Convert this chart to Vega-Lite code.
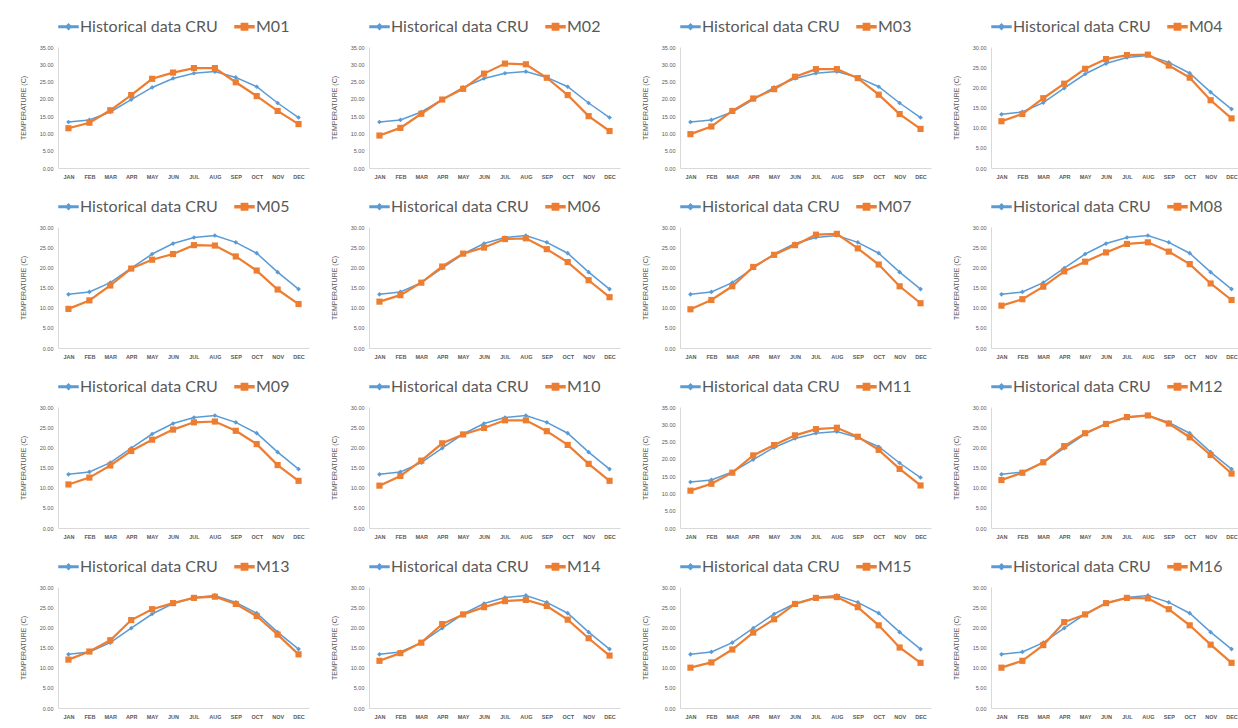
{
"$schema": "https://vega.github.io/schema/vega-lite/v6.json",
"background": "white",
"padding": {"left": 19, "top": 16, "right": 0, "bottom": 0},
"columns": 4,
"spacing": {"row": 16, "column": 21},
"resolve": {"scale": {"color": "independent"}, "legend": {"color": "independent"}},
"data": {"values": [
{"model":"CRU","month":"JAN","temp":13.3},{"model":"CRU","month":"FEB","temp":13.9},{"model":"CRU","month":"MAR","temp":16.2},{"model":"CRU","month":"APR","temp":19.8},{"model":"CRU","month":"MAY","temp":23.3},{"model":"CRU","month":"JUN","temp":25.9},{"model":"CRU","month":"JUL","temp":27.4},{"model":"CRU","month":"AUG","temp":27.9},{"model":"CRU","month":"SEP","temp":26.2},{"model":"CRU","month":"OCT","temp":23.5},{"model":"CRU","month":"NOV","temp":18.8},{"model":"CRU","month":"DEC","temp":14.6},
{"model":"M01","month":"JAN","temp":11.5},{"model":"M01","month":"FEB","temp":13.1},{"model":"M01","month":"MAR","temp":16.7},{"model":"M01","month":"APR","temp":21.1},{"model":"M01","month":"MAY","temp":25.8},{"model":"M01","month":"JUN","temp":27.6},{"model":"M01","month":"JUL","temp":28.9},{"model":"M01","month":"AUG","temp":28.9},{"model":"M01","month":"SEP","temp":24.8},{"model":"M01","month":"OCT","temp":20.8},{"model":"M01","month":"NOV","temp":16.5},{"model":"M01","month":"DEC","temp":12.7},
{"model":"M02","month":"JAN","temp":9.4},{"model":"M02","month":"FEB","temp":11.6},{"model":"M02","month":"MAR","temp":15.7},{"model":"M02","month":"APR","temp":19.8},{"model":"M02","month":"MAY","temp":22.9},{"model":"M02","month":"JUN","temp":27.3},{"model":"M02","month":"JUL","temp":30.2},{"model":"M02","month":"AUG","temp":30.0},{"model":"M02","month":"SEP","temp":26.1},{"model":"M02","month":"OCT","temp":21.1},{"model":"M02","month":"NOV","temp":15.0},{"model":"M02","month":"DEC","temp":10.7},
{"model":"M03","month":"JAN","temp":9.8},{"model":"M03","month":"FEB","temp":12.0},{"model":"M03","month":"MAR","temp":16.5},{"model":"M03","month":"APR","temp":20.1},{"model":"M03","month":"MAY","temp":22.8},{"model":"M03","month":"JUN","temp":26.4},{"model":"M03","month":"JUL","temp":28.6},{"model":"M03","month":"AUG","temp":28.6},{"model":"M03","month":"SEP","temp":26.0},{"model":"M03","month":"OCT","temp":21.2},{"model":"M03","month":"NOV","temp":15.6},{"model":"M03","month":"DEC","temp":11.3},
{"model":"M04","month":"JAN","temp":11.6},{"model":"M04","month":"FEB","temp":13.4},{"model":"M04","month":"MAR","temp":17.3},{"model":"M04","month":"APR","temp":20.9},{"model":"M04","month":"MAY","temp":24.6},{"model":"M04","month":"JUN","temp":27.0},{"model":"M04","month":"JUL","temp":28.0},{"model":"M04","month":"AUG","temp":28.1},{"model":"M04","month":"SEP","temp":25.4},{"model":"M04","month":"OCT","temp":22.4},{"model":"M04","month":"NOV","temp":16.8},{"model":"M04","month":"DEC","temp":12.3},
{"model":"M05","month":"JAN","temp":9.7},{"model":"M05","month":"FEB","temp":11.8},{"model":"M05","month":"MAR","temp":15.5},{"model":"M05","month":"APR","temp":19.7},{"model":"M05","month":"MAY","temp":21.9},{"model":"M05","month":"JUN","temp":23.3},{"model":"M05","month":"JUL","temp":25.5},{"model":"M05","month":"AUG","temp":25.4},{"model":"M05","month":"SEP","temp":22.7},{"model":"M05","month":"OCT","temp":19.2},{"model":"M05","month":"NOV","temp":14.5},{"model":"M05","month":"DEC","temp":10.9},
{"model":"M06","month":"JAN","temp":11.5},{"model":"M06","month":"FEB","temp":13.1},{"model":"M06","month":"MAR","temp":16.2},{"model":"M06","month":"APR","temp":20.2},{"model":"M06","month":"MAY","temp":23.4},{"model":"M06","month":"JUN","temp":24.9},{"model":"M06","month":"JUL","temp":27.0},{"model":"M06","month":"AUG","temp":27.2},{"model":"M06","month":"SEP","temp":24.5},{"model":"M06","month":"OCT","temp":21.3},{"model":"M06","month":"NOV","temp":16.8},{"model":"M06","month":"DEC","temp":12.6},
{"model":"M07","month":"JAN","temp":9.6},{"model":"M07","month":"FEB","temp":11.9},{"model":"M07","month":"MAR","temp":15.3},{"model":"M07","month":"APR","temp":20.1},{"model":"M07","month":"MAY","temp":23.1},{"model":"M07","month":"JUN","temp":25.5},{"model":"M07","month":"JUL","temp":28.1},{"model":"M07","month":"AUG","temp":28.3},{"model":"M07","month":"SEP","temp":24.7},{"model":"M07","month":"OCT","temp":20.7},{"model":"M07","month":"NOV","temp":15.3},{"model":"M07","month":"DEC","temp":11.1},
{"model":"M08","month":"JAN","temp":10.5},{"model":"M08","month":"FEB","temp":12.1},{"model":"M08","month":"MAR","temp":15.2},{"model":"M08","month":"APR","temp":19.0},{"model":"M08","month":"MAY","temp":21.4},{"model":"M08","month":"JUN","temp":23.7},{"model":"M08","month":"JUL","temp":25.8},{"model":"M08","month":"AUG","temp":26.2},{"model":"M08","month":"SEP","temp":23.9},{"model":"M08","month":"OCT","temp":20.8},{"model":"M08","month":"NOV","temp":16.0},{"model":"M08","month":"DEC","temp":11.9},
{"model":"M09","month":"JAN","temp":10.8},{"model":"M09","month":"FEB","temp":12.5},{"model":"M09","month":"MAR","temp":15.5},{"model":"M09","month":"APR","temp":19.1},{"model":"M09","month":"MAY","temp":21.9},{"model":"M09","month":"JUN","temp":24.4},{"model":"M09","month":"JUL","temp":26.2},{"model":"M09","month":"AUG","temp":26.4},{"model":"M09","month":"SEP","temp":24.1},{"model":"M09","month":"OCT","temp":20.8},{"model":"M09","month":"NOV","temp":15.6},{"model":"M09","month":"DEC","temp":11.7},
{"model":"M10","month":"JAN","temp":10.5},{"model":"M10","month":"FEB","temp":12.9},{"model":"M10","month":"MAR","temp":16.7},{"model":"M10","month":"APR","temp":21.0},{"model":"M10","month":"MAY","temp":23.2},{"model":"M10","month":"JUN","temp":24.8},{"model":"M10","month":"JUL","temp":26.7},{"model":"M10","month":"AUG","temp":26.7},{"model":"M10","month":"SEP","temp":24.0},{"model":"M10","month":"OCT","temp":20.6},{"model":"M10","month":"NOV","temp":15.9},{"model":"M10","month":"DEC","temp":11.7},
{"model":"M11","month":"JAN","temp":10.8},{"model":"M11","month":"FEB","temp":12.8},{"model":"M11","month":"MAR","temp":16.0},{"model":"M11","month":"APR","temp":21.0},{"model":"M11","month":"MAY","temp":24.0},{"model":"M11","month":"JUN","temp":26.8},{"model":"M11","month":"JUL","temp":28.6},{"model":"M11","month":"AUG","temp":29.0},{"model":"M11","month":"SEP","temp":26.4},{"model":"M11","month":"OCT","temp":22.6},{"model":"M11","month":"NOV","temp":17.1},{"model":"M11","month":"DEC","temp":12.3},
{"model":"M12","month":"JAN","temp":11.9},{"model":"M12","month":"FEB","temp":13.7},{"model":"M12","month":"MAR","temp":16.3},{"model":"M12","month":"APR","temp":20.3},{"model":"M12","month":"MAY","temp":23.5},{"model":"M12","month":"JUN","temp":25.8},{"model":"M12","month":"JUL","temp":27.5},{"model":"M12","month":"AUG","temp":27.9},{"model":"M12","month":"SEP","temp":25.9},{"model":"M12","month":"OCT","temp":22.5},{"model":"M12","month":"NOV","temp":18.1},{"model":"M12","month":"DEC","temp":13.5},
{"model":"M13","month":"JAN","temp":12.0},{"model":"M13","month":"FEB","temp":14.0},{"model":"M13","month":"MAR","temp":16.8},{"model":"M13","month":"APR","temp":21.8},{"model":"M13","month":"MAY","temp":24.5},{"model":"M13","month":"JUN","temp":26.0},{"model":"M13","month":"JUL","temp":27.3},{"model":"M13","month":"AUG","temp":27.6},{"model":"M13","month":"SEP","temp":25.8},{"model":"M13","month":"OCT","temp":22.8},{"model":"M13","month":"NOV","temp":18.2},{"model":"M13","month":"DEC","temp":13.3},
{"model":"M14","month":"JAN","temp":11.7},{"model":"M14","month":"FEB","temp":13.6},{"model":"M14","month":"MAR","temp":16.2},{"model":"M14","month":"APR","temp":20.8},{"model":"M14","month":"MAY","temp":23.2},{"model":"M14","month":"JUN","temp":25.0},{"model":"M14","month":"JUL","temp":26.5},{"model":"M14","month":"AUG","temp":26.8},{"model":"M14","month":"SEP","temp":25.3},{"model":"M14","month":"OCT","temp":21.9},{"model":"M14","month":"NOV","temp":17.3},{"model":"M14","month":"DEC","temp":13.0},
{"model":"M15","month":"JAN","temp":10.0},{"model":"M15","month":"FEB","temp":11.3},{"model":"M15","month":"MAR","temp":14.5},{"model":"M15","month":"APR","temp":18.7},{"model":"M15","month":"MAY","temp":22.0},{"model":"M15","month":"JUN","temp":25.8},{"model":"M15","month":"JUL","temp":27.3},{"model":"M15","month":"AUG","temp":27.5},{"model":"M15","month":"SEP","temp":25.0},{"model":"M15","month":"OCT","temp":20.5},{"model":"M15","month":"NOV","temp":15.0},{"model":"M15","month":"DEC","temp":11.2},
{"model":"M16","month":"JAN","temp":10.0},{"model":"M16","month":"FEB","temp":11.7},{"model":"M16","month":"MAR","temp":15.6},{"model":"M16","month":"APR","temp":21.3},{"model":"M16","month":"MAY","temp":23.2},{"model":"M16","month":"JUN","temp":26.0},{"model":"M16","month":"JUL","temp":27.3},{"model":"M16","month":"AUG","temp":27.2},{"model":"M16","month":"SEP","temp":24.5},{"model":"M16","month":"OCT","temp":20.5},{"model":"M16","month":"NOV","temp":15.7},{"model":"M16","month":"DEC","temp":11.2}
]},
"concat": [
{"width":251,"height":121,"transform":[{"filter":{"field":"model","oneOf":["CRU","M01"]}}],"encoding":{"x":{"field":"month","type":"ordinal","sort":["JAN","FEB","MAR","APR","MAY","JUN","JUL","AUG","SEP","OCT","NOV","DEC"],"title":null},"y":{"field":"temp","type":"quantitative","scale":{"domain":[0,35]},"axis":{"values":[0,5,10,15,20,25,30,35]},"title":"TEMPERATURE (C)"},"color":{"field":"model","type":"nominal","scale":{"domain":["CRU","M01"],"range":["#5B9BD5","#ED7D31"]},"legend":{"title":null,"labelExpr":"datum.value == 'CRU' ? 'Historical data CRU' : datum.value","encode":{"symbols":{"update":{"shape":{"signal":"datum.value == 'CRU' ? 'M-1,-0.07H1V0.07H-1Z M0,-0.28L0.28,0L0,0.28L-0.28,0Z' : 'M-1,-0.1H1V0.1H-1Z M-0.33,-0.33H0.33V0.33H-0.33Z'"},"fill":{"signal":"datum.value == 'CRU' ? '#5B9BD5' : '#ED7D31'"},"stroke":{"value":"transparent"},"opacity":{"value":1}}}}}}},"layer":[{"transform":[{"filter":"datum.model == 'CRU'"}],"mark":{"type":"line","strokeWidth":1.5}},{"transform":[{"filter":"datum.model == 'CRU'"}],"mark":{"type":"point","shape":"diamond","filled":true,"size":22,"opacity":1}},{"transform":[{"filter":"datum.model != 'CRU'"}],"mark":{"type":"line","strokeWidth":2.2}},{"transform":[{"filter":"datum.model != 'CRU'"}],"mark":{"type":"point","shape":"square","filled":true,"size":38,"opacity":1}}]},
{"width":251,"height":121,"transform":[{"filter":{"field":"model","oneOf":["CRU","M02"]}}],"encoding":{"x":{"field":"month","type":"ordinal","sort":["JAN","FEB","MAR","APR","MAY","JUN","JUL","AUG","SEP","OCT","NOV","DEC"],"title":null},"y":{"field":"temp","type":"quantitative","scale":{"domain":[0,35]},"axis":{"values":[0,5,10,15,20,25,30,35]},"title":"TEMPERATURE (C)"},"color":{"field":"model","type":"nominal","scale":{"domain":["CRU","M02"],"range":["#5B9BD5","#ED7D31"]},"legend":{"title":null,"labelExpr":"datum.value == 'CRU' ? 'Historical data CRU' : datum.value","encode":{"symbols":{"update":{"shape":{"signal":"datum.value == 'CRU' ? 'M-1,-0.07H1V0.07H-1Z M0,-0.28L0.28,0L0,0.28L-0.28,0Z' : 'M-1,-0.1H1V0.1H-1Z M-0.33,-0.33H0.33V0.33H-0.33Z'"},"fill":{"signal":"datum.value == 'CRU' ? '#5B9BD5' : '#ED7D31'"},"stroke":{"value":"transparent"},"opacity":{"value":1}}}}}}},"layer":[{"transform":[{"filter":"datum.model == 'CRU'"}],"mark":{"type":"line","strokeWidth":1.5}},{"transform":[{"filter":"datum.model == 'CRU'"}],"mark":{"type":"point","shape":"diamond","filled":true,"size":22,"opacity":1}},{"transform":[{"filter":"datum.model != 'CRU'"}],"mark":{"type":"line","strokeWidth":2.2}},{"transform":[{"filter":"datum.model != 'CRU'"}],"mark":{"type":"point","shape":"square","filled":true,"size":38,"opacity":1}}]},
{"width":251,"height":121,"transform":[{"filter":{"field":"model","oneOf":["CRU","M03"]}}],"encoding":{"x":{"field":"month","type":"ordinal","sort":["JAN","FEB","MAR","APR","MAY","JUN","JUL","AUG","SEP","OCT","NOV","DEC"],"title":null},"y":{"field":"temp","type":"quantitative","scale":{"domain":[0,35]},"axis":{"values":[0,5,10,15,20,25,30,35]},"title":"TEMPERATURE (C)"},"color":{"field":"model","type":"nominal","scale":{"domain":["CRU","M03"],"range":["#5B9BD5","#ED7D31"]},"legend":{"title":null,"labelExpr":"datum.value == 'CRU' ? 'Historical data CRU' : datum.value","encode":{"symbols":{"update":{"shape":{"signal":"datum.value == 'CRU' ? 'M-1,-0.07H1V0.07H-1Z M0,-0.28L0.28,0L0,0.28L-0.28,0Z' : 'M-1,-0.1H1V0.1H-1Z M-0.33,-0.33H0.33V0.33H-0.33Z'"},"fill":{"signal":"datum.value == 'CRU' ? '#5B9BD5' : '#ED7D31'"},"stroke":{"value":"transparent"},"opacity":{"value":1}}}}}}},"layer":[{"transform":[{"filter":"datum.model == 'CRU'"}],"mark":{"type":"line","strokeWidth":1.5}},{"transform":[{"filter":"datum.model == 'CRU'"}],"mark":{"type":"point","shape":"diamond","filled":true,"size":22,"opacity":1}},{"transform":[{"filter":"datum.model != 'CRU'"}],"mark":{"type":"line","strokeWidth":2.2}},{"transform":[{"filter":"datum.model != 'CRU'"}],"mark":{"type":"point","shape":"square","filled":true,"size":38,"opacity":1}}]},
{"width":251,"height":121,"transform":[{"filter":{"field":"model","oneOf":["CRU","M04"]}}],"encoding":{"x":{"field":"month","type":"ordinal","sort":["JAN","FEB","MAR","APR","MAY","JUN","JUL","AUG","SEP","OCT","NOV","DEC"],"title":null},"y":{"field":"temp","type":"quantitative","scale":{"domain":[0,30]},"axis":{"values":[0,5,10,15,20,25,30]},"title":"TEMPERATURE (C)"},"color":{"field":"model","type":"nominal","scale":{"domain":["CRU","M04"],"range":["#5B9BD5","#ED7D31"]},"legend":{"title":null,"labelExpr":"datum.value == 'CRU' ? 'Historical data CRU' : datum.value","encode":{"symbols":{"update":{"shape":{"signal":"datum.value == 'CRU' ? 'M-1,-0.07H1V0.07H-1Z M0,-0.28L0.28,0L0,0.28L-0.28,0Z' : 'M-1,-0.1H1V0.1H-1Z M-0.33,-0.33H0.33V0.33H-0.33Z'"},"fill":{"signal":"datum.value == 'CRU' ? '#5B9BD5' : '#ED7D31'"},"stroke":{"value":"transparent"},"opacity":{"value":1}}}}}}},"layer":[{"transform":[{"filter":"datum.model == 'CRU'"}],"mark":{"type":"line","strokeWidth":1.5}},{"transform":[{"filter":"datum.model == 'CRU'"}],"mark":{"type":"point","shape":"diamond","filled":true,"size":22,"opacity":1}},{"transform":[{"filter":"datum.model != 'CRU'"}],"mark":{"type":"line","strokeWidth":2.2}},{"transform":[{"filter":"datum.model != 'CRU'"}],"mark":{"type":"point","shape":"square","filled":true,"size":38,"opacity":1}}]},
{"width":251,"height":121,"transform":[{"filter":{"field":"model","oneOf":["CRU","M05"]}}],"encoding":{"x":{"field":"month","type":"ordinal","sort":["JAN","FEB","MAR","APR","MAY","JUN","JUL","AUG","SEP","OCT","NOV","DEC"],"title":null},"y":{"field":"temp","type":"quantitative","scale":{"domain":[0,30]},"axis":{"values":[0,5,10,15,20,25,30]},"title":"TEMPERATURE (C)"},"color":{"field":"model","type":"nominal","scale":{"domain":["CRU","M05"],"range":["#5B9BD5","#ED7D31"]},"legend":{"title":null,"labelExpr":"datum.value == 'CRU' ? 'Historical data CRU' : datum.value","encode":{"symbols":{"update":{"shape":{"signal":"datum.value == 'CRU' ? 'M-1,-0.07H1V0.07H-1Z M0,-0.28L0.28,0L0,0.28L-0.28,0Z' : 'M-1,-0.1H1V0.1H-1Z M-0.33,-0.33H0.33V0.33H-0.33Z'"},"fill":{"signal":"datum.value == 'CRU' ? '#5B9BD5' : '#ED7D31'"},"stroke":{"value":"transparent"},"opacity":{"value":1}}}}}}},"layer":[{"transform":[{"filter":"datum.model == 'CRU'"}],"mark":{"type":"line","strokeWidth":1.5}},{"transform":[{"filter":"datum.model == 'CRU'"}],"mark":{"type":"point","shape":"diamond","filled":true,"size":22,"opacity":1}},{"transform":[{"filter":"datum.model != 'CRU'"}],"mark":{"type":"line","strokeWidth":2.2}},{"transform":[{"filter":"datum.model != 'CRU'"}],"mark":{"type":"point","shape":"square","filled":true,"size":38,"opacity":1}}]},
{"width":251,"height":121,"transform":[{"filter":{"field":"model","oneOf":["CRU","M06"]}}],"encoding":{"x":{"field":"month","type":"ordinal","sort":["JAN","FEB","MAR","APR","MAY","JUN","JUL","AUG","SEP","OCT","NOV","DEC"],"title":null},"y":{"field":"temp","type":"quantitative","scale":{"domain":[0,30]},"axis":{"values":[0,5,10,15,20,25,30]},"title":"TEMPERATURE (C)"},"color":{"field":"model","type":"nominal","scale":{"domain":["CRU","M06"],"range":["#5B9BD5","#ED7D31"]},"legend":{"title":null,"labelExpr":"datum.value == 'CRU' ? 'Historical data CRU' : datum.value","encode":{"symbols":{"update":{"shape":{"signal":"datum.value == 'CRU' ? 'M-1,-0.07H1V0.07H-1Z M0,-0.28L0.28,0L0,0.28L-0.28,0Z' : 'M-1,-0.1H1V0.1H-1Z M-0.33,-0.33H0.33V0.33H-0.33Z'"},"fill":{"signal":"datum.value == 'CRU' ? '#5B9BD5' : '#ED7D31'"},"stroke":{"value":"transparent"},"opacity":{"value":1}}}}}}},"layer":[{"transform":[{"filter":"datum.model == 'CRU'"}],"mark":{"type":"line","strokeWidth":1.5}},{"transform":[{"filter":"datum.model == 'CRU'"}],"mark":{"type":"point","shape":"diamond","filled":true,"size":22,"opacity":1}},{"transform":[{"filter":"datum.model != 'CRU'"}],"mark":{"type":"line","strokeWidth":2.2}},{"transform":[{"filter":"datum.model != 'CRU'"}],"mark":{"type":"point","shape":"square","filled":true,"size":38,"opacity":1}}]},
{"width":251,"height":121,"transform":[{"filter":{"field":"model","oneOf":["CRU","M07"]}}],"encoding":{"x":{"field":"month","type":"ordinal","sort":["JAN","FEB","MAR","APR","MAY","JUN","JUL","AUG","SEP","OCT","NOV","DEC"],"title":null},"y":{"field":"temp","type":"quantitative","scale":{"domain":[0,30]},"axis":{"values":[0,5,10,15,20,25,30]},"title":"TEMPERATURE (C)"},"color":{"field":"model","type":"nominal","scale":{"domain":["CRU","M07"],"range":["#5B9BD5","#ED7D31"]},"legend":{"title":null,"labelExpr":"datum.value == 'CRU' ? 'Historical data CRU' : datum.value","encode":{"symbols":{"update":{"shape":{"signal":"datum.value == 'CRU' ? 'M-1,-0.07H1V0.07H-1Z M0,-0.28L0.28,0L0,0.28L-0.28,0Z' : 'M-1,-0.1H1V0.1H-1Z M-0.33,-0.33H0.33V0.33H-0.33Z'"},"fill":{"signal":"datum.value == 'CRU' ? '#5B9BD5' : '#ED7D31'"},"stroke":{"value":"transparent"},"opacity":{"value":1}}}}}}},"layer":[{"transform":[{"filter":"datum.model == 'CRU'"}],"mark":{"type":"line","strokeWidth":1.5}},{"transform":[{"filter":"datum.model == 'CRU'"}],"mark":{"type":"point","shape":"diamond","filled":true,"size":22,"opacity":1}},{"transform":[{"filter":"datum.model != 'CRU'"}],"mark":{"type":"line","strokeWidth":2.2}},{"transform":[{"filter":"datum.model != 'CRU'"}],"mark":{"type":"point","shape":"square","filled":true,"size":38,"opacity":1}}]},
{"width":251,"height":121,"transform":[{"filter":{"field":"model","oneOf":["CRU","M08"]}}],"encoding":{"x":{"field":"month","type":"ordinal","sort":["JAN","FEB","MAR","APR","MAY","JUN","JUL","AUG","SEP","OCT","NOV","DEC"],"title":null},"y":{"field":"temp","type":"quantitative","scale":{"domain":[0,30]},"axis":{"values":[0,5,10,15,20,25,30]},"title":"TEMPERATURE (C)"},"color":{"field":"model","type":"nominal","scale":{"domain":["CRU","M08"],"range":["#5B9BD5","#ED7D31"]},"legend":{"title":null,"labelExpr":"datum.value == 'CRU' ? 'Historical data CRU' : datum.value","encode":{"symbols":{"update":{"shape":{"signal":"datum.value == 'CRU' ? 'M-1,-0.07H1V0.07H-1Z M0,-0.28L0.28,0L0,0.28L-0.28,0Z' : 'M-1,-0.1H1V0.1H-1Z M-0.33,-0.33H0.33V0.33H-0.33Z'"},"fill":{"signal":"datum.value == 'CRU' ? '#5B9BD5' : '#ED7D31'"},"stroke":{"value":"transparent"},"opacity":{"value":1}}}}}}},"layer":[{"transform":[{"filter":"datum.model == 'CRU'"}],"mark":{"type":"line","strokeWidth":1.5}},{"transform":[{"filter":"datum.model == 'CRU'"}],"mark":{"type":"point","shape":"diamond","filled":true,"size":22,"opacity":1}},{"transform":[{"filter":"datum.model != 'CRU'"}],"mark":{"type":"line","strokeWidth":2.2}},{"transform":[{"filter":"datum.model != 'CRU'"}],"mark":{"type":"point","shape":"square","filled":true,"size":38,"opacity":1}}]},
{"width":251,"height":121,"transform":[{"filter":{"field":"model","oneOf":["CRU","M09"]}}],"encoding":{"x":{"field":"month","type":"ordinal","sort":["JAN","FEB","MAR","APR","MAY","JUN","JUL","AUG","SEP","OCT","NOV","DEC"],"title":null},"y":{"field":"temp","type":"quantitative","scale":{"domain":[0,30]},"axis":{"values":[0,5,10,15,20,25,30]},"title":"TEMPERATURE (C)"},"color":{"field":"model","type":"nominal","scale":{"domain":["CRU","M09"],"range":["#5B9BD5","#ED7D31"]},"legend":{"title":null,"labelExpr":"datum.value == 'CRU' ? 'Historical data CRU' : datum.value","encode":{"symbols":{"update":{"shape":{"signal":"datum.value == 'CRU' ? 'M-1,-0.07H1V0.07H-1Z M0,-0.28L0.28,0L0,0.28L-0.28,0Z' : 'M-1,-0.1H1V0.1H-1Z M-0.33,-0.33H0.33V0.33H-0.33Z'"},"fill":{"signal":"datum.value == 'CRU' ? '#5B9BD5' : '#ED7D31'"},"stroke":{"value":"transparent"},"opacity":{"value":1}}}}}}},"layer":[{"transform":[{"filter":"datum.model == 'CRU'"}],"mark":{"type":"line","strokeWidth":1.5}},{"transform":[{"filter":"datum.model == 'CRU'"}],"mark":{"type":"point","shape":"diamond","filled":true,"size":22,"opacity":1}},{"transform":[{"filter":"datum.model != 'CRU'"}],"mark":{"type":"line","strokeWidth":2.2}},{"transform":[{"filter":"datum.model != 'CRU'"}],"mark":{"type":"point","shape":"square","filled":true,"size":38,"opacity":1}}]},
{"width":251,"height":121,"transform":[{"filter":{"field":"model","oneOf":["CRU","M10"]}}],"encoding":{"x":{"field":"month","type":"ordinal","sort":["JAN","FEB","MAR","APR","MAY","JUN","JUL","AUG","SEP","OCT","NOV","DEC"],"title":null},"y":{"field":"temp","type":"quantitative","scale":{"domain":[0,30]},"axis":{"values":[0,5,10,15,20,25,30]},"title":"TEMPERATURE (C)"},"color":{"field":"model","type":"nominal","scale":{"domain":["CRU","M10"],"range":["#5B9BD5","#ED7D31"]},"legend":{"title":null,"labelExpr":"datum.value == 'CRU' ? 'Historical data CRU' : datum.value","encode":{"symbols":{"update":{"shape":{"signal":"datum.value == 'CRU' ? 'M-1,-0.07H1V0.07H-1Z M0,-0.28L0.28,0L0,0.28L-0.28,0Z' : 'M-1,-0.1H1V0.1H-1Z M-0.33,-0.33H0.33V0.33H-0.33Z'"},"fill":{"signal":"datum.value == 'CRU' ? '#5B9BD5' : '#ED7D31'"},"stroke":{"value":"transparent"},"opacity":{"value":1}}}}}}},"layer":[{"transform":[{"filter":"datum.model == 'CRU'"}],"mark":{"type":"line","strokeWidth":1.5}},{"transform":[{"filter":"datum.model == 'CRU'"}],"mark":{"type":"point","shape":"diamond","filled":true,"size":22,"opacity":1}},{"transform":[{"filter":"datum.model != 'CRU'"}],"mark":{"type":"line","strokeWidth":2.2}},{"transform":[{"filter":"datum.model != 'CRU'"}],"mark":{"type":"point","shape":"square","filled":true,"size":38,"opacity":1}}]},
{"width":251,"height":121,"transform":[{"filter":{"field":"model","oneOf":["CRU","M11"]}}],"encoding":{"x":{"field":"month","type":"ordinal","sort":["JAN","FEB","MAR","APR","MAY","JUN","JUL","AUG","SEP","OCT","NOV","DEC"],"title":null},"y":{"field":"temp","type":"quantitative","scale":{"domain":[0,35]},"axis":{"values":[0,5,10,15,20,25,30,35]},"title":"TEMPERATURE (C)"},"color":{"field":"model","type":"nominal","scale":{"domain":["CRU","M11"],"range":["#5B9BD5","#ED7D31"]},"legend":{"title":null,"labelExpr":"datum.value == 'CRU' ? 'Historical data CRU' : datum.value","encode":{"symbols":{"update":{"shape":{"signal":"datum.value == 'CRU' ? 'M-1,-0.07H1V0.07H-1Z M0,-0.28L0.28,0L0,0.28L-0.28,0Z' : 'M-1,-0.1H1V0.1H-1Z M-0.33,-0.33H0.33V0.33H-0.33Z'"},"fill":{"signal":"datum.value == 'CRU' ? '#5B9BD5' : '#ED7D31'"},"stroke":{"value":"transparent"},"opacity":{"value":1}}}}}}},"layer":[{"transform":[{"filter":"datum.model == 'CRU'"}],"mark":{"type":"line","strokeWidth":1.5}},{"transform":[{"filter":"datum.model == 'CRU'"}],"mark":{"type":"point","shape":"diamond","filled":true,"size":22,"opacity":1}},{"transform":[{"filter":"datum.model != 'CRU'"}],"mark":{"type":"line","strokeWidth":2.2}},{"transform":[{"filter":"datum.model != 'CRU'"}],"mark":{"type":"point","shape":"square","filled":true,"size":38,"opacity":1}}]},
{"width":251,"height":121,"transform":[{"filter":{"field":"model","oneOf":["CRU","M12"]}}],"encoding":{"x":{"field":"month","type":"ordinal","sort":["JAN","FEB","MAR","APR","MAY","JUN","JUL","AUG","SEP","OCT","NOV","DEC"],"title":null},"y":{"field":"temp","type":"quantitative","scale":{"domain":[0,30]},"axis":{"values":[0,5,10,15,20,25,30]},"title":"TEMPERATURE (C)"},"color":{"field":"model","type":"nominal","scale":{"domain":["CRU","M12"],"range":["#5B9BD5","#ED7D31"]},"legend":{"title":null,"labelExpr":"datum.value == 'CRU' ? 'Historical data CRU' : datum.value","encode":{"symbols":{"update":{"shape":{"signal":"datum.value == 'CRU' ? 'M-1,-0.07H1V0.07H-1Z M0,-0.28L0.28,0L0,0.28L-0.28,0Z' : 'M-1,-0.1H1V0.1H-1Z M-0.33,-0.33H0.33V0.33H-0.33Z'"},"fill":{"signal":"datum.value == 'CRU' ? '#5B9BD5' : '#ED7D31'"},"stroke":{"value":"transparent"},"opacity":{"value":1}}}}}}},"layer":[{"transform":[{"filter":"datum.model == 'CRU'"}],"mark":{"type":"line","strokeWidth":1.5}},{"transform":[{"filter":"datum.model == 'CRU'"}],"mark":{"type":"point","shape":"diamond","filled":true,"size":22,"opacity":1}},{"transform":[{"filter":"datum.model != 'CRU'"}],"mark":{"type":"line","strokeWidth":2.2}},{"transform":[{"filter":"datum.model != 'CRU'"}],"mark":{"type":"point","shape":"square","filled":true,"size":38,"opacity":1}}]},
{"width":251,"height":121,"transform":[{"filter":{"field":"model","oneOf":["CRU","M13"]}}],"encoding":{"x":{"field":"month","type":"ordinal","sort":["JAN","FEB","MAR","APR","MAY","JUN","JUL","AUG","SEP","OCT","NOV","DEC"],"title":null},"y":{"field":"temp","type":"quantitative","scale":{"domain":[0,30]},"axis":{"values":[0,5,10,15,20,25,30]},"title":"TEMPERATURE (C)"},"color":{"field":"model","type":"nominal","scale":{"domain":["CRU","M13"],"range":["#5B9BD5","#ED7D31"]},"legend":{"title":null,"labelExpr":"datum.value == 'CRU' ? 'Historical data CRU' : datum.value","encode":{"symbols":{"update":{"shape":{"signal":"datum.value == 'CRU' ? 'M-1,-0.07H1V0.07H-1Z M0,-0.28L0.28,0L0,0.28L-0.28,0Z' : 'M-1,-0.1H1V0.1H-1Z M-0.33,-0.33H0.33V0.33H-0.33Z'"},"fill":{"signal":"datum.value == 'CRU' ? '#5B9BD5' : '#ED7D31'"},"stroke":{"value":"transparent"},"opacity":{"value":1}}}}}}},"layer":[{"transform":[{"filter":"datum.model == 'CRU'"}],"mark":{"type":"line","strokeWidth":1.5}},{"transform":[{"filter":"datum.model == 'CRU'"}],"mark":{"type":"point","shape":"diamond","filled":true,"size":22,"opacity":1}},{"transform":[{"filter":"datum.model != 'CRU'"}],"mark":{"type":"line","strokeWidth":2.2}},{"transform":[{"filter":"datum.model != 'CRU'"}],"mark":{"type":"point","shape":"square","filled":true,"size":38,"opacity":1}}]},
{"width":251,"height":121,"transform":[{"filter":{"field":"model","oneOf":["CRU","M14"]}}],"encoding":{"x":{"field":"month","type":"ordinal","sort":["JAN","FEB","MAR","APR","MAY","JUN","JUL","AUG","SEP","OCT","NOV","DEC"],"title":null},"y":{"field":"temp","type":"quantitative","scale":{"domain":[0,30]},"axis":{"values":[0,5,10,15,20,25,30]},"title":"TEMPERATURE (C)"},"color":{"field":"model","type":"nominal","scale":{"domain":["CRU","M14"],"range":["#5B9BD5","#ED7D31"]},"legend":{"title":null,"labelExpr":"datum.value == 'CRU' ? 'Historical data CRU' : datum.value","encode":{"symbols":{"update":{"shape":{"signal":"datum.value == 'CRU' ? 'M-1,-0.07H1V0.07H-1Z M0,-0.28L0.28,0L0,0.28L-0.28,0Z' : 'M-1,-0.1H1V0.1H-1Z M-0.33,-0.33H0.33V0.33H-0.33Z'"},"fill":{"signal":"datum.value == 'CRU' ? '#5B9BD5' : '#ED7D31'"},"stroke":{"value":"transparent"},"opacity":{"value":1}}}}}}},"layer":[{"transform":[{"filter":"datum.model == 'CRU'"}],"mark":{"type":"line","strokeWidth":1.5}},{"transform":[{"filter":"datum.model == 'CRU'"}],"mark":{"type":"point","shape":"diamond","filled":true,"size":22,"opacity":1}},{"transform":[{"filter":"datum.model != 'CRU'"}],"mark":{"type":"line","strokeWidth":2.2}},{"transform":[{"filter":"datum.model != 'CRU'"}],"mark":{"type":"point","shape":"square","filled":true,"size":38,"opacity":1}}]},
{"width":251,"height":121,"transform":[{"filter":{"field":"model","oneOf":["CRU","M15"]}}],"encoding":{"x":{"field":"month","type":"ordinal","sort":["JAN","FEB","MAR","APR","MAY","JUN","JUL","AUG","SEP","OCT","NOV","DEC"],"title":null},"y":{"field":"temp","type":"quantitative","scale":{"domain":[0,30]},"axis":{"values":[0,5,10,15,20,25,30]},"title":"TEMPERATURE (C)"},"color":{"field":"model","type":"nominal","scale":{"domain":["CRU","M15"],"range":["#5B9BD5","#ED7D31"]},"legend":{"title":null,"labelExpr":"datum.value == 'CRU' ? 'Historical data CRU' : datum.value","encode":{"symbols":{"update":{"shape":{"signal":"datum.value == 'CRU' ? 'M-1,-0.07H1V0.07H-1Z M0,-0.28L0.28,0L0,0.28L-0.28,0Z' : 'M-1,-0.1H1V0.1H-1Z M-0.33,-0.33H0.33V0.33H-0.33Z'"},"fill":{"signal":"datum.value == 'CRU' ? '#5B9BD5' : '#ED7D31'"},"stroke":{"value":"transparent"},"opacity":{"value":1}}}}}}},"layer":[{"transform":[{"filter":"datum.model == 'CRU'"}],"mark":{"type":"line","strokeWidth":1.5}},{"transform":[{"filter":"datum.model == 'CRU'"}],"mark":{"type":"point","shape":"diamond","filled":true,"size":22,"opacity":1}},{"transform":[{"filter":"datum.model != 'CRU'"}],"mark":{"type":"line","strokeWidth":2.2}},{"transform":[{"filter":"datum.model != 'CRU'"}],"mark":{"type":"point","shape":"square","filled":true,"size":38,"opacity":1}}]},
{"width":251,"height":121,"transform":[{"filter":{"field":"model","oneOf":["CRU","M16"]}}],"encoding":{"x":{"field":"month","type":"ordinal","sort":["JAN","FEB","MAR","APR","MAY","JUN","JUL","AUG","SEP","OCT","NOV","DEC"],"title":null},"y":{"field":"temp","type":"quantitative","scale":{"domain":[0,30]},"axis":{"values":[0,5,10,15,20,25,30]},"title":"TEMPERATURE (C)"},"color":{"field":"model","type":"nominal","scale":{"domain":["CRU","M16"],"range":["#5B9BD5","#ED7D31"]},"legend":{"title":null,"labelExpr":"datum.value == 'CRU' ? 'Historical data CRU' : datum.value","encode":{"symbols":{"update":{"shape":{"signal":"datum.value == 'CRU' ? 'M-1,-0.07H1V0.07H-1Z M0,-0.28L0.28,0L0,0.28L-0.28,0Z' : 'M-1,-0.1H1V0.1H-1Z M-0.33,-0.33H0.33V0.33H-0.33Z'"},"fill":{"signal":"datum.value == 'CRU' ? '#5B9BD5' : '#ED7D31'"},"stroke":{"value":"transparent"},"opacity":{"value":1}}}}}}},"layer":[{"transform":[{"filter":"datum.model == 'CRU'"}],"mark":{"type":"line","strokeWidth":1.5}},{"transform":[{"filter":"datum.model == 'CRU'"}],"mark":{"type":"point","shape":"diamond","filled":true,"size":22,"opacity":1}},{"transform":[{"filter":"datum.model != 'CRU'"}],"mark":{"type":"line","strokeWidth":2.2}},{"transform":[{"filter":"datum.model != 'CRU'"}],"mark":{"type":"point","shape":"square","filled":true,"size":38,"opacity":1}}]}
],
"config": {
 "view": {"stroke": null},
 "font": "Liberation Sans",
 "axis": {"grid": false, "ticks": false, "domainColor": "#d9d9d9", "labelColor": "#595959", "titleColor": "#595959"},
 "axisX": {"labelAngle": 0, "labelFontSize": 5.5, "labelFontWeight": "bold", "labelPadding": 6},
 "axisY": {"labelFontSize": 5.5, "format": ".2f", "labelPadding": 5, "minExtent": 30, "maxExtent": 30, "titleFontSize": 7, "titleFontWeight": "normal", "titlePadding": 2},
 "legend": {"orient": "top", "labelFontSize": 16, "labelFont": "Lato", "labelColor": "#595959", "symbolSize": 361, "labelOffset": 1, "columnPadding": 14, "offset": 12, "padding": 0}
}
}
